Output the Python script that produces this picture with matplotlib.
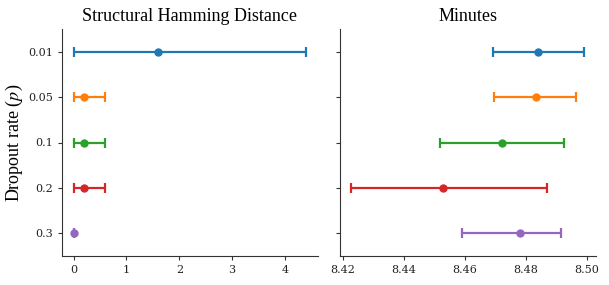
import matplotlib.pyplot as plt
import numpy as np

plt.rcParams['font.family'] = ['Liberation Serif', 'DejaVu Serif']
plt.rcParams['mathtext.fontset'] = 'stix'

# Dropout rates (categories on y axis)
rates = ['0.01', '0.05', '0.1', '0.2', '0.3']

# Structural Hamming Distance: mean with CI bounds
shd_mean = [1.6, 0.2, 0.2, 0.2, 0.0]
shd_low = [0.0, 0.0, 0.0, 0.0, 0.0]
shd_high = [4.4, 0.6, 0.6, 0.6, 0.0]

# Minutes: mean with CI bounds
min_mean = [8.4841, 8.4832, 8.4722, 8.4530, 8.4780]
min_low = [8.4692, 8.4694, 8.4520, 8.4229, 8.4590]
min_high = [8.4990, 8.4963, 8.4924, 8.4870, 8.4914]

colors = plt.get_cmap('tab10').colors

fig = plt.figure(figsize=(6.09, 2.85), dpi=100)
ax1 = fig.add_axes([0.1018, 0.1035, 0.420, 0.793])
ax2 = fig.add_axes([0.558, 0.1035, 0.420, 0.793], sharey=ax1)

def draw(ax, mean, low, high):
    ys = np.arange(len(rates))
    for i in range(len(rates)):
        err = [[mean[i] - low[i]], [high[i] - mean[i]]]
        ax.errorbar(mean[i], ys[i], xerr=err, fmt='o', color=colors[i],
                    markersize=5, elinewidth=1.6, capsize=3.3, capthick=1.6)
    for s in ['top', 'right']:
        ax.spines[s].set_visible(False)
    for s in ['left', 'bottom']:
        ax.spines[s].set_color('#333333')
    ax.tick_params(length=3, color='#333333')

draw(ax1, shd_mean, shd_low, shd_high)
draw(ax2, min_mean, min_low, min_high)

tick_font = dict(family='DejaVu Serif', fontsize=8, color='#222222')
ax1.set_yticks(np.arange(len(rates)))
ax1.set_yticklabels(rates, **tick_font)
ax1.set_ylim(len(rates) - 0.5, -0.5)
ax1.set_xticks([0, 1, 2, 3, 4])
ax1.set_xticklabels(['0', '1', '2', '3', '4'], **tick_font)
ax2.set_xticks([8.42, 8.44, 8.46, 8.48, 8.50])
ax2.set_xticklabels(['8.42', '8.44', '8.46', '8.48', '8.50'], **tick_font)
ax2.tick_params(labelleft=False)

ax1.set_title('Structural Hamming Distance', fontsize=13)
ax2.set_title('Minutes', fontsize=13)
ax1.set_ylabel('Dropout rate ($p$)', fontsize=13)
ax1.yaxis.set_label_coords(-0.145, 0.5)

fig.savefig('out.png', dpi=100)
